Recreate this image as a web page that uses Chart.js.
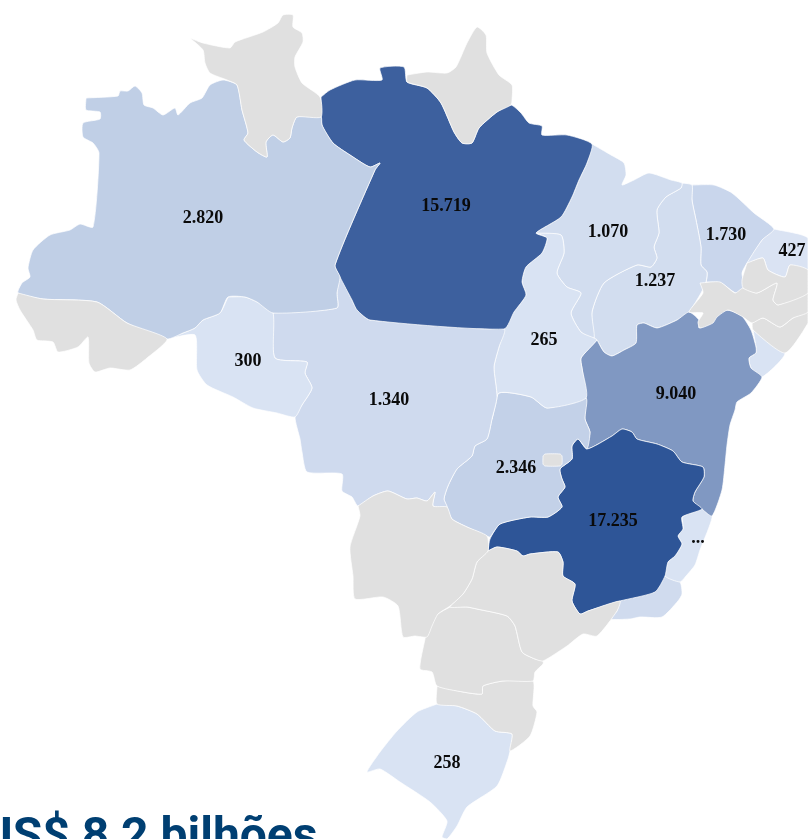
<!DOCTYPE html>
<html lang="pt">
<head>
<meta charset="utf-8">
<title>Mapa do Brasil</title>
<script src="https://cdn.jsdelivr.net/npm/chart.js@4/dist/chart.umd.min.js"></script>
<style>
html,body{margin:0;padding:0;background:#fff;width:808px;height:839px;overflow:hidden}
#wrap{position:relative;width:808px;height:839px;overflow:hidden}
#c{position:absolute;left:0;top:0}
#total{position:absolute;left:-19px;top:811px;margin:0;font:700 48px Roboto,sans-serif;color:#003f72;white-space:nowrap;line-height:48px}
</style>
</head>
<body>
<div id="wrap">
<canvas id="c" width="808" height="839"></canvas>
<p id="total">US$ 8,2 bilhões</p>
</div>
<script>
// Map units are the reference picture's own grid (0-808 across, 0-839 down).
const mapWidth = 808, mapHeight = 839;

const stateCodes = ["RR","AP","AC","MS","SP","PR","SC","DF","PB","PE","AL","AM","PA","RO","MT","TO","GO","MG","BA","ES","RJ","MA","PI","CE","RN","SE","RS"];
const stateValues = [null,null,null,null,null,null,null,null,null,null,null,2820,15719,300,1340,265,2346,17235,9040,"...",null,1070,1237,1730,427,null,258];
const stateLabels = [null,null,null,null,null,null,null,null,null,null,null,"2.820","15.719","300","1.340","265","2.346","17.235","9.040","...",null,"1.070","1.237","1.730","427",null,"258"];
const stateColors = ["#e0e0e0","#e0e0e0","#e0e0e0","#e0e0e0","#e0e0e0","#e0e0e0","#e0e0e0","#e0e0e0","#e0e0e0","#e0e0e0","#e0e0e0","#c0cfe6","#3d609e","#d9e3f3","#cfdaee","#d9e3f3","#c3d1e8","#2e5597","#8098c2","#d9e3f3","#d0dbee","#d2ddef","#d2ddef","#c9d6ec","#dae3f3","#d9e3f3","#d9e3f3"];
const labelAnchors = [null,null,null,null,null,null,null,null,null,null,null,[203,218],[446,206],[248,361],[389,400],[544,340],[516,468],[613,521],[676,394],[698,538],null,[608,232],[655,281],[726,235],[792,251],null,[447,763]];

const RR = [[190,38],[203,43],[230,48],[235,42],[263,32],[278,23],[283,15],[293,15],[293,27],[302,33],[303,42],[295,57],[295,67],[302,83],[320,97],[321,117],[297,117],[292,128],[290,138],[283,142],[273,135],[266,142],[267,157],[257,152],[244,140],[248,133],[242,110],[237,85],[227,80],[210,73],[205,63],[203,50]];
const AP = [[407,75],[427,72],[447,73],[456,67],[467,43],[477,27],[486,35],[487,53],[499,75],[512,85],[512,100],[511,105],[497,112],[479,128],[472,143],[462,143],[454,132],[441,103],[427,88],[407,82]];
const AC = [[18,293],[43,299],[97,302],[127,323],[167,339],[147,358],[130,370],[110,368],[95,372],[89,363],[88,337],[78,347],[58,352],[53,342],[37,340],[33,330],[20,310],[16,300]];
const MS = [[358,506],[373,496],[388,491],[407,499],[417,498],[427,501],[435,492],[433,506],[447,507],[452,519],[467,527],[487,536],[488,551],[477,562],[472,579],[463,594],[450,606],[438,614],[432,626],[427,637],[415,636],[403,637],[398,606],[383,597],[355,599],[353,576],[350,547],[360,516]];
const SP = [[488,551],[497,547],[517,551],[523,556],[530,554],[558,552],[563,562],[563,576],[575,584],[572,601],[580,614],[588,611],[620,601],[617,611],[597,636],[583,634],[567,646],[543,661],[535,659],[522,652],[515,626],[507,616],[477,609],[467,607],[450,607],[463,594],[472,579],[477,562]];
const PR = [[450,607],[467,607],[477,609],[507,616],[515,626],[522,652],[535,659],[543,661],[543,664],[535,672],[533,681],[503,681],[483,686],[482,694],[463,692],[437,686],[432,672],[420,669],[425,639],[428,627],[438,614]];
const SC = [[437,686],[463,692],[482,694],[483,686],[503,681],[533,681],[533,706],[537,712],[530,736],[510,751],[512,734],[495,731],[477,714],[457,706],[437,704]];
const DF = [[543,456],[545,454],[560,454],[562,456],[562,464],[560,466],[545,466],[543,464]];
const PB = [[747,263],[763,258],[768,270],[785,277],[790,265],[808,270],[808,293],[778,305],[773,300],[777,283],[757,293],[743,288],[742,280]];
const PE = [[700,283],[720,282],[735,293],[743,288],[757,293],[777,283],[773,300],[778,305],[808,293],[808,312],[793,318],[780,327],[763,318],[752,323],[743,317],[728,310],[717,317],[713,323],[700,328],[698,322],[703,313],[689,312],[703,293]];
const AL = [[752,323],[763,318],[780,327],[793,318],[808,312],[808,323],[785,353],[753,330]];
const AM = [[86,98],[118,96],[120,91],[128,91],[135,86],[142,93],[144,105],[153,108],[163,115],[175,108],[178,115],[190,103],[202,98],[210,85],[223,80],[237,85],[242,110],[248,133],[244,140],[257,152],[267,157],[266,142],[273,135],[283,142],[290,138],[292,128],[297,117],[321,117],[322,125],[333,143],[350,155],[370,167],[380,163],[375,170],[335,265],[340,277],[337,293],[337,308],[273,313],[257,302],[245,297],[228,297],[220,313],[203,320],[195,328],[183,333],[167,339],[127,323],[97,302],[43,299],[18,293],[22,283],[30,277],[28,268],[33,250],[50,235],[70,230],[80,224],[93,227],[99,153],[93,143],[83,137],[83,123],[100,119],[100,112],[86,110]];
const PA = [[321,97],[330,90],[355,80],[382,80],[380,68],[404,67],[407,82],[427,88],[441,103],[454,132],[462,143],[472,143],[479,128],[497,112],[511,105],[521,113],[529,123],[542,126],[542,135],[567,135],[592,144],[587,163],[579,180],[572,197],[561,217],[536,233],[547,238],[542,253],[526,267],[522,282],[526,295],[514,312],[504,329],[370,320],[357,310],[352,300],[340,277],[335,265],[375,170],[380,163],[370,167],[350,155],[333,143],[322,125]];
const RO = [[228,297],[245,297],[257,302],[273,313],[275,358],[307,362],[305,373],[312,388],[302,405],[295,417],[277,413],[253,408],[233,397],[207,385],[197,370],[195,335],[167,339],[183,333],[195,328],[203,320],[220,313]];
const MT = [[273,313],[337,308],[337,293],[340,277],[352,300],[357,310],[370,320],[504,329],[499,347],[494,367],[497,397],[492,419],[487,439],[475,446],[472,456],[457,469],[448,486],[444,499],[447,507],[433,506],[435,492],[427,501],[417,498],[407,499],[388,491],[373,496],[358,506],[352,497],[342,491],[342,474],[307,472],[302,452],[300,439],[295,417],[302,405],[312,388],[305,373],[307,362],[275,358]];
const TO = [[536,233],[561,235],[564,253],[557,273],[567,287],[581,293],[571,313],[581,332],[594,338],[597,340],[581,358],[582,368],[586,398],[547,408],[531,397],[499,393],[492,419],[497,397],[494,367],[499,347],[504,329],[514,312],[526,295],[522,282],[526,267],[542,253],[547,238]];
const GO = [[492,419],[499,393],[531,397],[547,408],[586,398],[585,419],[590,432],[587,449],[578,439],[572,446],[572,459],[560,469],[562,479],[565,487],[558,497],[562,507],[548,517],[530,517],[500,524],[490,537],[487,536],[467,527],[452,519],[447,507],[444,499],[448,486],[457,469],[472,456],[475,446],[487,439]];
const MG = [[488,551],[490,539],[500,524],[530,517],[548,517],[562,507],[558,497],[565,487],[562,479],[560,469],[572,459],[572,446],[578,439],[587,449],[612,436],[622,429],[632,432],[637,439],[657,444],[673,451],[682,462],[703,467],[704,477],[695,492],[693,501],[702,509],[682,517],[683,529],[678,536],[682,544],[675,556],[668,562],[665,576],[655,592],[620,601],[588,611],[580,614],[572,601],[575,584],[563,576],[563,562],[558,552],[530,554],[523,556],[517,551],[497,547]];
const BA = [[597,340],[604,352],[612,356],[624,350],[636,343],[637,325],[644,323],[657,328],[677,320],[689,312],[699,320],[699,328],[709,323],[712,317],[726,310],[741,315],[751,330],[756,347],[756,353],[749,358],[751,368],[762,377],[751,393],[737,402],[735,410],[730,425],[727,445],[725,465],[722,490],[712,516],[702,509],[693,501],[695,492],[704,477],[703,467],[682,462],[673,451],[657,444],[637,439],[632,432],[622,429],[612,436],[587,449],[590,432],[585,419],[586,398],[582,368],[581,358]];
const ES = [[682,517],[692,512],[702,509],[712,516],[708,530],[700,550],[695,565],[686,576],[680,582],[665,576],[668,562],[675,556],[682,544],[678,536],[683,529]];
const RJ = [[655,592],[665,576],[680,582],[682,594],[678,601],[662,617],[640,617],[630,619],[610,619],[617,611],[620,601]];
const MA = [[592,144],[611,155],[624,163],[626,175],[622,185],[634,180],[649,173],[671,180],[682,183],[681,188],[666,197],[657,210],[659,233],[654,247],[657,258],[651,267],[637,265],[604,283],[592,312],[594,338],[581,332],[571,313],[581,293],[567,287],[557,273],[564,253],[561,235],[536,233],[561,217],[572,197],[579,180],[587,163]];
const PI = [[682,183],[692,185],[692,200],[696,220],[701,247],[701,265],[707,272],[706,282],[701,293],[689,312],[677,320],[657,328],[644,323],[637,325],[636,343],[624,350],[612,356],[604,352],[597,340],[594,338],[592,312],[604,283],[637,265],[651,267],[657,258],[654,247],[659,233],[657,210],[666,197],[681,188]];
const CE = [[692,185],[714,185],[732,193],[754,213],[774,229],[762,240],[747,263],[742,273],[744,287],[736,293],[721,283],[702,282],[706,282],[707,272],[701,265],[701,247],[696,220],[692,200]];
const RN = [[774,229],[808,238],[808,270],[790,265],[785,277],[768,270],[763,258],[747,263],[762,240]];
const SE = [[753,330],[785,353],[762,377],[751,368],[749,358],[756,353],[756,347]];
const RS = [[437,704],[457,706],[477,714],[495,731],[512,734],[510,751],[508,759],[497,786],[467,807],[457,826],[447,839],[442,837],[447,821],[430,802],[400,782],[380,769],[367,772],[380,752],[397,731],[417,712]];

const stateOutlines = [RR,AP,AC,MS,SP,PR,SC,DF,PB,PE,AL,AM,PA,RO,MT,TO,GO,MG,BA,ES,RJ,MA,PI,CE,RN,SE,RS];

const closedRing = ring => ring.concat([ring[0]]).map(([x, y]) => ({x, y}));

const stateValueLabels = {
  id: "stateValueLabels",
  afterDatasetsDraw(chart) {
    const {ctx, scales: {x, y}} = chart;
    ctx.save();
    ctx.font = "bold 18px 'Liberation Serif', serif";
    ctx.fillStyle = "#0a0a0a";
    ctx.textAlign = "center";
    ctx.textBaseline = "middle";
    stateLabels.forEach((label, i) => {
      if (!label) return;
      const [ax, ay] = labelAnchors[i];
      ctx.fillText(label, x.getPixelForValue(ax), y.getPixelForValue(ay));
    });
    ctx.restore();
  }
};

new Chart(document.getElementById("c"), {
  type: "scatter",
  data: {
    datasets: stateCodes.map((code, i) => ({
      label: code,
      data: closedRing(stateOutlines[i]),
      showLine: true,
      tension: 0.2,
      fill: "shape",
      backgroundColor: stateColors[i],
      borderColor: "rgba(255,255,255,0.7)",
      borderWidth: 1,
      pointRadius: 0,
      pointHoverRadius: 0
    }))
  },
  options: {
    responsive: false,
    animation: false,
    events: [],
    layout: {padding: 0},
    plugins: {legend: {display: false}, tooltip: {enabled: false}, title: {display: false}},
    scales: {
      x: {type: "linear", display: false, min: 0, max: mapWidth},
      y: {type: "linear", display: false, reverse: true, min: 0, max: mapHeight}
    }
  },
  plugins: [stateValueLabels]
});
</script>
</body>
</html>
